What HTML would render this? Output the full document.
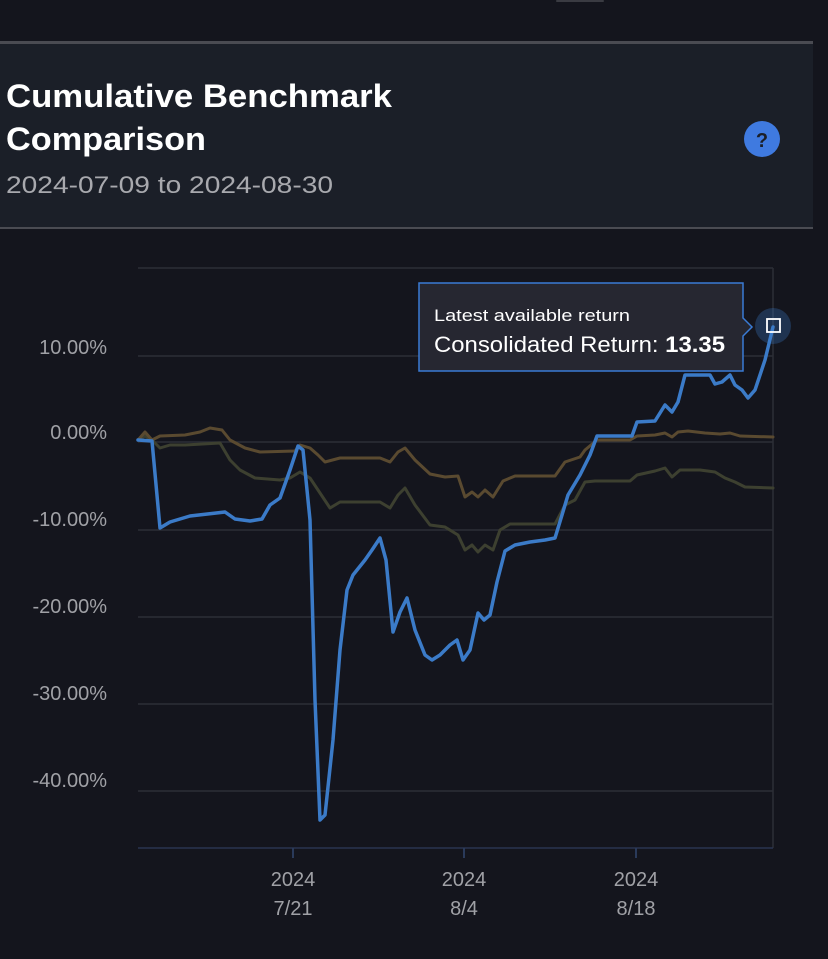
<!DOCTYPE html>
<html><head><style>
html,body{margin:0;padding:0;background:#14151d;width:828px;height:959px;overflow:hidden;font-family:"Liberation Sans",sans-serif}
</style></head><body>
<svg width="828" height="959" viewBox="0 0 828 959" xmlns="http://www.w3.org/2000/svg" style="position:absolute;left:0;top:0">
<rect width="828" height="959" fill="#14151d"/>
<rect x="556" y="0" width="48" height="2" rx="1" fill="#3a3b42"/>
<rect x="0" y="43" width="813" height="185" fill="#1b1f28"/>
<rect x="0" y="41" width="813" height="3" fill="#4a4b52"/>
<rect x="0" y="227" width="813" height="2" fill="#4a4b52"/>
<text x="6" y="107" font-size="32" font-weight="bold" fill="#ffffff" textLength="386" lengthAdjust="spacingAndGlyphs">Cumulative Benchmark</text>
<text x="6" y="150" font-size="32" font-weight="bold" fill="#ffffff" textLength="200" lengthAdjust="spacingAndGlyphs">Comparison</text>
<text x="6" y="193" font-size="24" fill="#a8a9ae" textLength="327" lengthAdjust="spacingAndGlyphs">2024-07-09 to 2024-08-30</text>
<circle cx="762" cy="139" r="18" fill="#3f7ae0"/>
<text x="762" y="147" font-size="20" font-weight="bold" fill="#1b1f28" text-anchor="middle">?</text>
<g stroke="#2c2e36" stroke-width="1.5">
<line x1="138" y1="268" x2="773" y2="268"/>
<line x1="138" y1="356" x2="773" y2="356"/>
<line x1="138" y1="442" x2="773" y2="442"/>
<line x1="138" y1="530" x2="773" y2="530"/>
<line x1="138" y1="617" x2="773" y2="617"/>
<line x1="138" y1="704" x2="773" y2="704"/>
<line x1="138" y1="791" x2="773" y2="791"/>
<line x1="773" y1="268" x2="773" y2="848"/>
</g>
<line x1="138" y1="848" x2="773" y2="848" stroke="#2a3550" stroke-width="1.5"/>
<g stroke="#2a3a5a" stroke-width="2"><line x1="293" y1="848" x2="293" y2="858"/><line x1="464" y1="848" x2="464" y2="858"/><line x1="636" y1="848" x2="636" y2="858"/></g>
<g font-size="20" fill="#a0a1a6" text-anchor="end">
<text x="107" y="354">10.00%</text><text x="107" y="439">0.00%</text><text x="107" y="526">-10.00%</text><text x="107" y="613">-20.00%</text><text x="107" y="700">-30.00%</text><text x="107" y="787">-40.00%</text>
</g>
<g font-size="20" fill="#a0a1a6" text-anchor="middle">
<text x="293" y="886">2024</text><text x="293" y="915">7/21</text>
<text x="464" y="886">2024</text><text x="464" y="915">8/4</text>
<text x="636" y="886">2024</text><text x="636" y="915">8/18</text>
</g>
<g fill="none" stroke-width="3" stroke-linejoin="round" stroke-linecap="round">
<polyline stroke="#3d4030" points="138,440 145,436 152,440 160,448 170,445 185,445 220,443 230,460 240,470 255,478 280,480 290,478 300,472 310,478 320,493 330,508 340,502 380,502 390,508 398,495 405,488 415,505 430,525 445,527 458,535 465,550 472,545 478,552 485,545 493,550 500,530 510,524 555,524 565,505 575,500 585,482 595,481 630,481 637,475 655,471 665,468 672,477 680,470 700,470 715,472 725,478 735,482 745,487 773,488"/>
<polyline stroke="#5a4a30" points="138,440 145,432 152,440 160,436 185,435 200,432 210,428 222,430 230,440 245,448 260,452 295,451 300,445 310,448 318,455 325,462 340,458 380,458 390,462 398,452 405,448 415,460 430,474 445,477 458,476 465,497 472,492 478,497 485,490 493,497 503,481 515,476 555,476 565,462 580,457 585,450 597,440 630,440 637,436 655,435 665,433 672,437 678,432 688,431 705,433 720,434 730,433 740,436 773,437"/>
<polyline stroke="#3b7bc8" stroke-width="3.5" points="138,440 152,441 160,528 170,522 190,516 225,512 235,519 250,521 262,519 270,505 280,498 290,470 298,446 303,450 310,520 315,700 320,820 325,815 333,740 340,650 347,590 353,575 365,560 372,550 380,538 386,560 393,632 400,612 407,598 415,630 425,655 432,660 440,655 450,645 457,640 463,660 470,650 478,613 484,620 490,615 497,582 505,551 515,545 530,542 545,540 555,538 562,515 568,495 580,475 590,455 597,436 605,436 632,436 637,422 655,421 665,405 672,412 678,402 685,375 710,375 715,384 722,382 730,375 735,385 742,390 748,398 755,390 765,360 773,327"/>
</g>
<path d="M419,283 H743 V318 L752,327 L743,336 V371 H419 Z" fill="#262731" stroke="#3a7bd5" stroke-width="1.5"/>
<text x="434" y="321" font-size="17" fill="#ffffff" textLength="196" lengthAdjust="spacingAndGlyphs">Latest available return</text>
<text x="434" y="352" font-size="22" fill="#ffffff" textLength="291" lengthAdjust="spacingAndGlyphs">Consolidated Return: <tspan font-weight="bold">13.35</tspan></text>
<circle cx="773" cy="326" r="18" fill="#3b7bc8" fill-opacity="0.3"/>
<rect x="767" y="319" width="13" height="13" fill="none" stroke="#ffffff" stroke-width="1.8"/>
</svg>
</body></html>
